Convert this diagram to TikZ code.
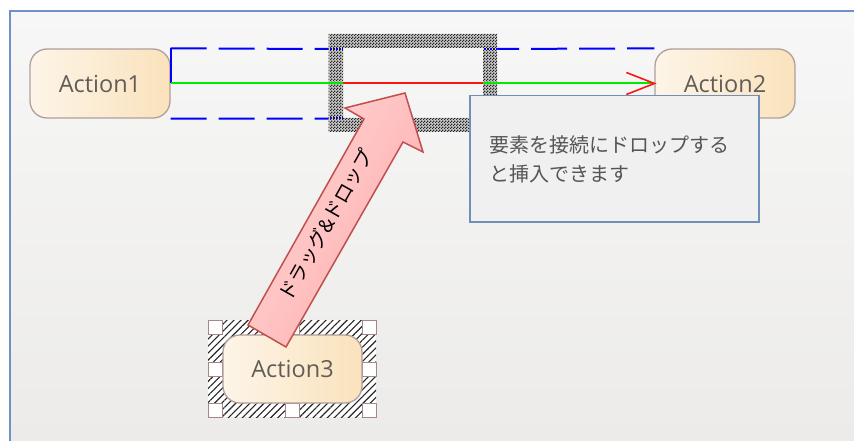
\documentclass[tikz,border=0pt]{standalone}
\usepackage{fontspec}
\setmainfont{Open Sans}
\newfontfamily\jp{Noto Sans CJK JP}
\usetikzlibrary{patterns.meta,calc}
\definecolor{bgtop}{RGB}{247,247,247}
\definecolor{bgbot}{RGB}{236,235,233}
\definecolor{framec}{RGB}{110,146,200}
\definecolor{actl}{RGB}{253,245,232}
\definecolor{actr}{RGB}{250,226,188}
\definecolor{actb}{RGB}{178,158,156}
\definecolor{actt}{RGB}{98,92,88}
\definecolor{grn}{RGB}{0,235,0}
\definecolor{rd}{RGB}{255,20,20}
\definecolor{hndb}{RGB}{165,135,135}
\definecolor{tipfill}{RGB}{240,240,241}
\definecolor{tipb}{RGB}{112,144,184}
\definecolor{tiptxt}{RGB}{85,85,85}
\definecolor{arrl}{RGB}{255,214,214}
\definecolor{arrr}{RGB}{255,172,172}
\definecolor{arrb}{RGB}{192,80,77}
\definecolor{yel}{RGB}{235,225,40}
\definecolor{grabbg}{RGB}{200,200,200}
\tikzdeclarepattern{name=mychecker, type=uncolored,
  bounding box={(0pt,0pt) and (3pt,3pt)}, tile size={(3pt,3pt)},
  code={\fill (0pt,0pt) rectangle (1.5pt,1.5pt); \fill (1.5pt,1.5pt) rectangle (3pt,3pt);}}
\begin{document}
\begin{tikzpicture}[x=1pt,y=-1pt,
  action/.style={draw=actb, line width=1.3pt, rounded corners=17pt,
    minimum width=140pt, minimum height=69pt, left color=actl, right color=actr,
    text=actt, font=\fontsize{23.5}{27}\selectfont, inner sep=0pt},
  handle/.style={draw=hndb, fill=white, line width=1pt, minimum size=14pt, inner sep=0pt},
  bluedash/.style={blue, line width=2pt, dash pattern=on 36pt off 12pt},
  greenline/.style={draw=grn, line width=2pt},
  redline/.style={draw=rd, line width=2pt},
  stripe/.style={draw=yel, line width=2pt, dash pattern=on 1.2pt off 1.8pt}]
\useasboundingbox (0,0) rectangle (854,441);
\fill[white] (0,0) rectangle (854,441);
\shade[top color=bgtop, bottom color=bgbot] (9,11) rectangle (854,441);
\draw[framec, line width=2pt] (9.5,441) -- (9.5,11) -- (854,11);

% nodes
\node[action] (a1) at (100,83.5) {Action1};
\node[action] (a2) at (725,83.5) {Action2};

% selection of Action3
\fill[white] (208,320) rectangle (376,417);
\fill[pattern={Lines[angle=45,distance=5pt,line width=1.1pt]}, pattern color=black!85] (208,320) rectangle (376,417);
\foreach \hx/\hy/\hn in {215.5/327/1,292.5/327/2,369/327/3,215.5/369/4,369/369/5,215.5/410/6,292.5/410/7,369/410/8}
  \node[handle] (h\hn) at (\hx,\hy) {};
\node[action, minimum width=139pt, minimum height=68pt] (a3) at (292.5,369) {Action3};

% insertion guide lines
\coordinate (gL) at (343,83.5);
\coordinate (gR) at (483,83.5);
\draw[blue, line width=2pt] (a1.east) -- (a1.north east);
\draw[bluedash] (a1.north east) -- (329,49);
\draw[bluedash] (a1.south east) -- (329,118.5);
\draw[bluedash, dash phase=14pt] (497,49) -- (a2.north west);

% grabber
\fill[grabbg, even odd rule] (328.5,34) rectangle (497,132) (343,48) rectangle (483,118);
\fill[pattern=mychecker, pattern color=black!85, even odd rule] (328.5,34) rectangle (497,132) (343,48) rectangle (483,118);
\draw[blue, line width=2pt] (329,49) -- (343,49) (329,118.5) -- (343,118.5) (483,49) -- (497,49);
\draw[stripe] (329,49) -- (343,49) (329,118.5) -- (343,118.5) (483,49) -- (497,49);

% connector
\draw[greenline] (a1.east) -- (gL);
\draw[redline] (gL) -- (gR);
\draw[greenline] (gR) -- (a2.west);
\draw[redline, line width=1.6pt] ($(a2.west)+(-28,-11)$) -- (a2.west) -- ($(a2.west)+(-28,11)$);

% tooltip
\node[draw=tipb, fill=tipfill, line width=1.5pt, anchor=north west, minimum width=289pt, minimum height=126pt, inner sep=0pt] (tip) at (469,95) {};
\node[anchor=north west, inner sep=0pt, align=left, text=tiptxt, font=\jp\fontsize{20}{29}\selectfont] (tiptext) at (489,135) {要素を接続にドロップする\\と挿入できます};

% drag arrow
\shade[left color=arrl, right color=arrr, shading angle=60, draw=arrb, line width=1.5pt, line join=miter]
  (248,325) -- (364,119) -- (345,108) -- (405,93) -- (423,152) -- (403,142) -- (286,347) -- cycle;
\node[rotate=60.6, font=\jp\fontsize{19.5}{22}\selectfont, inner sep=0pt] (drag) at (326,225) {ドラッグ\&ドロップ};
\end{tikzpicture}
\end{document}
